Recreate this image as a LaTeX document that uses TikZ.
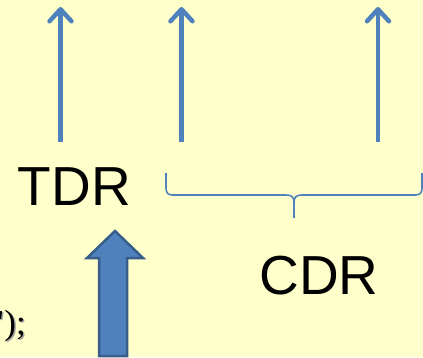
\documentclass[tikz,border=0pt]{standalone}
\usepackage{fontspec}
\setmainfont{Liberation Sans}
\newfontfamily\codefont{Liberation Serif}
\usetikzlibrary{arrows.meta}
\definecolor{bg}{HTML}{FFFFCC}
\definecolor{accent}{HTML}{4F81BD}
\definecolor{accentdark}{HTML}{385D8A}
\tikzset{
  thinarrow/.style={draw=accent, line width=4.5pt, -{Straight Barb[length=12pt,width=22pt,line cap=round,line join=round]}},
  bigword/.style={font=\fontsize{55}{60}\selectfont, inner sep=0pt, anchor=base},
  bracestyle/.style={draw=accent, line width=1.6pt, line join=round},
  blockarrow/.style={fill=accent, draw=accentdark, line width=2.5pt, line join=miter},
  codetext/.style={font=\codefont\fontsize{35}{40}\selectfont, inner sep=0pt, anchor=base east},
}
\begin{document}
\begin{tikzpicture}[x=1pt,y=-1pt]
\fill[bg] (0,0) rectangle (423,357);
\useasboundingbox (0,0) rectangle (423,357);
\clip (0,0) rectangle (423,357);
% thin arrows
\coordinate (a1s) at (60.5,142);
\coordinate (a1e) at (60.5,7);
\coordinate (a2s) at (181.5,142);
\coordinate (a2e) at (181.5,7);
\coordinate (a3s) at (378,142);
\coordinate (a3e) at (378,7);
\draw[thinarrow] (a1s) -- (a1e);
\draw[thinarrow] (a2s) -- (a2e);
\draw[thinarrow] (a3s) -- (a3e);
% labels
\node[bigword] (tdr) at (74.5,205) {TDR};
\node[bigword] (cdr) at (319,294) {CDR};
% brace
\coordinate (bl) at (166,173);
\coordinate (br) at (422,173);
\coordinate (bt) at (294,218);
\draw[bracestyle] (bl) -- (166,188) .. controls (166,193) and (168,195) .. (173,195)
  -- (286,195) .. controls (292,195) and (294,197) .. (294,203) -- (bt);
\draw[bracestyle] (294,203) .. controls (294,197) and (296,195) .. (302,195)
  -- (415,195) .. controls (420,195) and (422,193) .. (422,188) -- (br);
% block arrow
\draw[blockarrow] (115,231) -- (143,258) -- (127,258) -- (127,356) -- (99,356) -- (99,258) -- (87,258) -- cycle;
% clipped code fragment
\node[codetext, text=black!35] (codeshadow) at (27.5,335.5) {");};
\node[codetext] (code) at (26,334) {");};
\end{tikzpicture}
\end{document}
